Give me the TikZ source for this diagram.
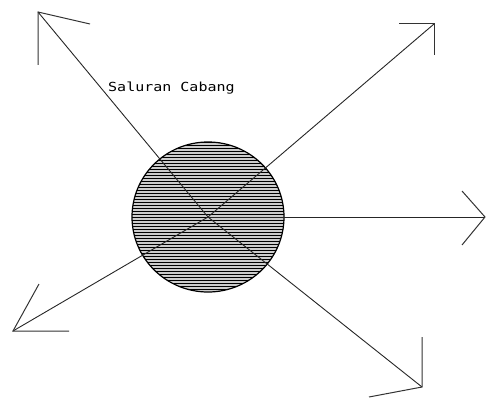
\documentclass[tikz,border=0pt]{standalone}
\usepackage{fontspec}
\newfontfamily\labelfont{DejaVu Sans Mono}
\begin{document}
\begin{tikzpicture}[x=1pt,y=-1pt,
  ray/.style={line width=0.9pt,black!85},
  arm/.style={line width=1pt,black!80},
  hatchline/.style={line width=1pt,black}]
\useasboundingbox (0,0) rectangle (486,398);
\coordinate (c) at (208,217);
% tips
\coordinate (tl) at (38,12);
\coordinate (tr) at (434,24);
\coordinate (rt) at (485,217);
\coordinate (bl) at (13,331);
\coordinate (br) at (422,387);
% arm ends
\coordinate (tla) at (38,65);
\coordinate (tlb) at (90,24);
\coordinate (tra) at (399,24);
\coordinate (trb) at (434,55);
\coordinate (rta) at (462,191);
\coordinate (rtb) at (462,245);
\coordinate (bla) at (69,331);
\coordinate (blb) at (39,284);
\coordinate (bra) at (422,337);
\coordinate (brb) at (369,397);
% hatched circle
\fill[gray!40] (c) circle[x radius=76,y radius=75];
\begin{scope}
  \clip (c) circle[x radius=76,y radius=75];
  \foreach \yy in {142,145,...,292} {
    \draw[hatchline] (130,\yy) -- (288,\yy);
  }
\end{scope}
\draw[line width=1.2pt] (c) circle[x radius=76,y radius=75];
% rays
\draw[ray] (c) -- (tl);
\draw[ray] (c) -- (tr);
\draw[ray] (c) -- (rt);
\draw[ray] (c) -- (bl);
\draw[ray] (c) -- (br);
% arrow arms
\draw[arm] (tla) -- (tl) -- (tlb);
\draw[arm] (tra) -- (tr) -- (trb);
\draw[arm] (rta) -- (rt) -- (rtb);
\draw[arm] (bla) -- (bl) -- (blb);
\draw[arm] (bra) -- (br) -- (brb);
% label
\node[anchor=base west,inner sep=0pt,font=\labelfont\fontsize{12.5}{14}\selectfont] (lbl) at (108,92) {\scalebox{1.2}[1]{Saluran Cabang}};
\end{tikzpicture}
\end{document}
